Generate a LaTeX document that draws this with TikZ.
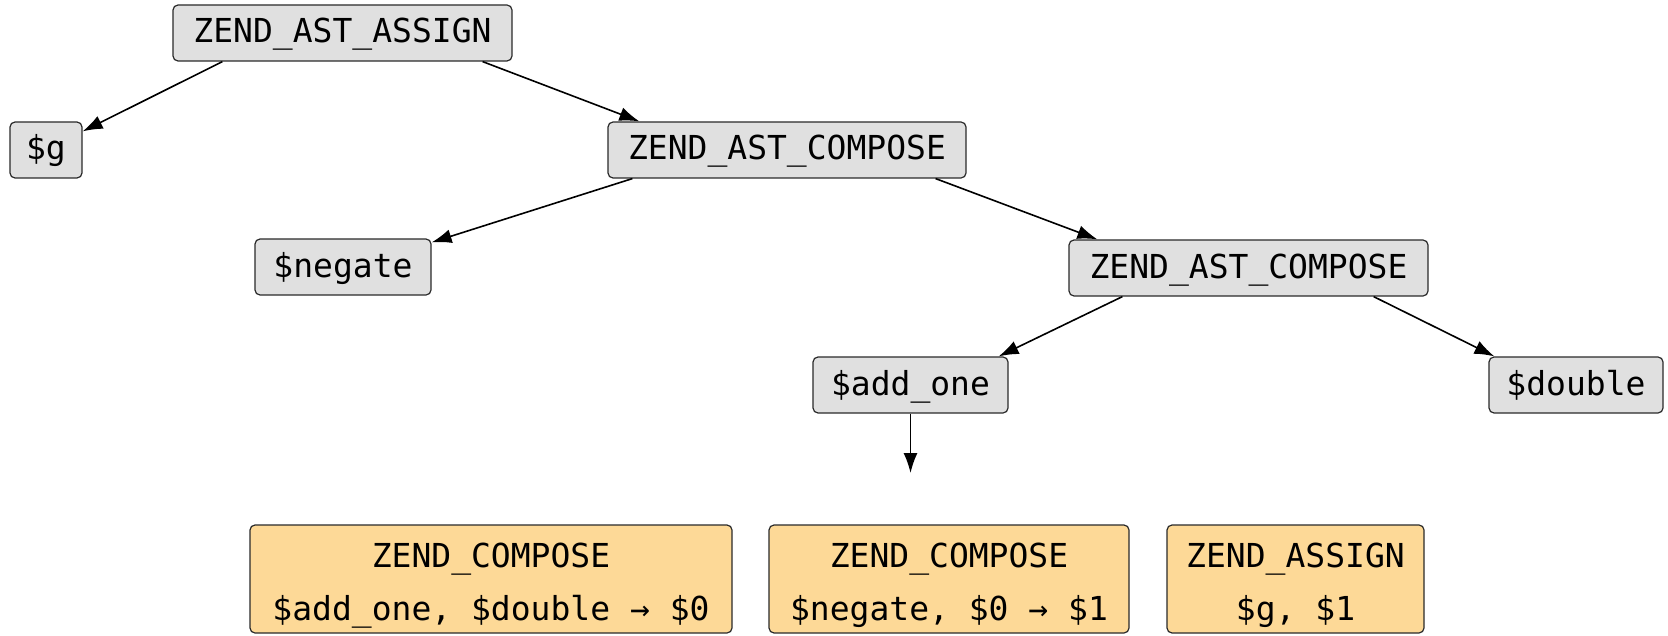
\documentclass[tikz,border=0pt]{standalone}
\usepackage{fontspec}
\setmonofont{DejaVu Sans Mono}
\usepackage{tikz}
\usetikzlibrary{arrows.meta}

\definecolor{astgray}{HTML}{E0E0E0}
\definecolor{opfill}{HTML}{FDD997}
\definecolor{edgegray}{HTML}{2A2A2A}

\begin{document}
\begin{tikzpicture}[x=0.5pt,y=-0.5pt,
		ast/.style={rectangle,rounded corners=2.5pt,draw=edgegray,line width=0.6pt,fill=astgray,inner sep=0pt,minimum height=28pt,text height=12pt,text depth=2pt,font=\ttfamily\fontsize{16.5}{20}\selectfont},
		op/.style={rectangle,rounded corners=2.5pt,draw=edgegray,line width=0.6pt,fill=opfill,inner sep=0pt,minimum height=54pt,text height=41pt,text depth=0pt,align=center,font=\ttfamily\fontsize{16.5}{26.5}\selectfont},
		edge/.style={-{Latex[length=10pt,width=7pt]},line width=0.8pt}]
			\useasboundingbox (0,0) rectangle (1668,636);
			
			% ast
			
			\node[ast,minimum width=169.5pt] (A1) at (342.5,33) {ZEND\_AST\_ASSIGN};
			\node[ast,minimum width=36pt] (G) at (46,150) {\$g};
			\node[ast,minimum width=179pt] (C1) at (787,150) {ZEND\_AST\_COMPOSE};
			\node[ast,minimum width=88pt] (N) at (343,267) {\$negate};
			\node[ast,minimum width=179.5pt] (C2) at (1248.5,268) {ZEND\_AST\_COMPOSE};
			\node[ast,minimum width=97.5pt] (P) at (910.5,385) {\$add\_one};
			\node[ast,minimum width=87pt] (D) at (1576,385) {\$double};
			\coordinate (E) at (910.5,473);
			
			\draw[edge] ([xshift=25pt]A1.south west) -- ([yshift=-5pt]G.north east);
			\draw[edge] ([xshift=-15pt]A1.south east) -- ([xshift=16pt]C1.north west);
			\draw[edge] ([xshift=12.5pt]C1.south west) -- ([yshift=-2pt]N.north east);
			\draw[edge] ([xshift=-15.5pt]C1.south east) -- ([xshift=14.5pt]C2.north west);
			\draw[edge] ([xshift=27pt]C2.south west) -- ([xshift=-5pt]P.north east);
			\draw[edge] ([xshift=-27.5pt]C2.south east) -- ([xshift=3pt]D.north west);
			\draw[edge] (P.south) -- (E);
			
			% opcodes
			
			\node[op,minimum width=241pt] (O1) at (491,579) {ZEND\_COMPOSE\\\$add\_one, \$double → \$0};
			\node[op,minimum width=180pt] (O2) at (949,579) {ZEND\_COMPOSE\\\$negate, \$0 → \$1};
			\node[op,minimum width=128.5pt] (O3) at (1295.5,579) {ZEND\_ASSIGN\\\$g, \$1};
		\end{tikzpicture}
\end{document}
